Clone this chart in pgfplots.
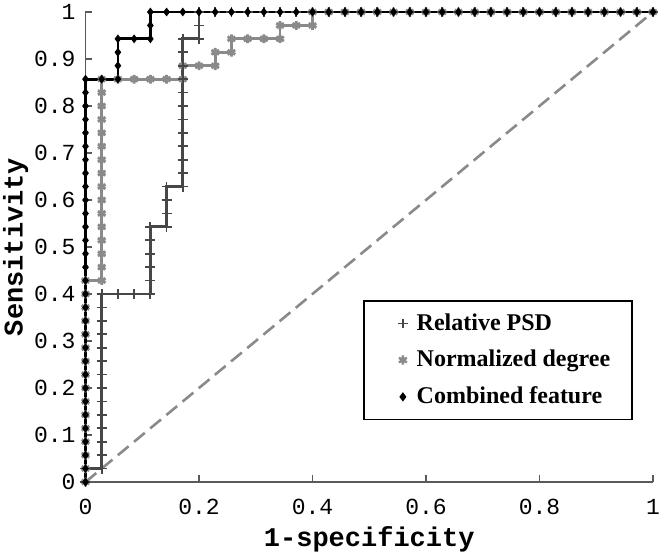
\documentclass[border=0pt]{standalone}
\usepackage{pgfplots}
\pgfplotsset{compat=1.18}
\usepackage{fontspec}
\setmainfont{Liberation Serif}
\newfontfamily\monofont{Liberation Mono}
\definecolor{psdc}{HTML}{474747}
\definecolor{ndc}{HTML}{8A8A8A}
\definecolor{axc}{HTML}{5A5A5A}
\begin{document}
\begin{tikzpicture}
\begin{axis}[
  at={(0,0)}, anchor=south west,
  scale only axis, width=283.75pt, height=235pt,
  xmin=0, xmax=1, ymin=0, ymax=1,
  clip=false,
  axis x line=bottom, axis y line=left,
  axis line style={-, draw=axc, line width=0.7pt},
  tick align=inside, major tick length=3.5pt,
  tick style={draw=axc, line width=0.7pt},
  xtick={0,0.2,0.4,0.6,0.8,1},
  ytick={0,0.1,0.2,0.3,0.4,0.5,0.6,0.7,0.8,0.9,1},
  xticklabels={0,0.2,0.4,0.6,0.8,1},
  yticklabels={0,0.1,0.2,0.3,0.4,0.5,0.6,0.7,0.8,0.9,1},
  tick label style={font=\monofont\fontsize{11.5}{12}\selectfont},
  xticklabel style={yshift=-5pt},
  yticklabel style={xshift=-1.5pt},
  xlabel={1-specificity}, ylabel={Sensitivity},
  label style={font=\monofont\bfseries\fontsize{13.5}{14}\selectfont},
  xlabel style={at={(rel axis cs:0.5,-0.1213)}, anchor=center},
  ylabel style={at={(rel axis cs:-0.1233,0.5)}, anchor=center},
  legend style={at={(axis cs:0.489,0.387)}, anchor=north west, draw=black, line width=0.9pt,
    fill=white, font=\bfseries\fontsize{12}{12.5}\selectfont,
    inner xsep=8.5pt, inner ysep=3.8pt, row sep=3.5pt, nodes={inner sep=2.5pt},
    cells={anchor=west},
    /tikz/every odd column/.append style={column sep=2pt}},
  legend image code/.code={\path[draw=none, fill=none] (-11pt,0pt) -- (0pt,0pt); \draw[#1] plot coordinates {(0pt,0pt)};},
]
\addlegendimage{only marks, mark=+, mark size=2.4pt, draw=psdc, mark options={line width=0.8pt}}
\addlegendentry{Relative PSD}
\addlegendimage{only marks, mark=asterisk, mark size=2.3pt, draw=ndc, mark options={line width=1.2pt}}
\addlegendentry{Normalized degree}
\addlegendimage{only marks, mark=diamond*, mark size=1.6pt, draw=black, fill=black}
\addlegendentry{Combined feature}

% diagonal
\addplot[forget plot, draw=ndc, line width=1.3pt, dash pattern=on 7pt off 3.5pt] coordinates {(0,0) (1,1)};

% Normalized degree
\addplot[forget plot, draw=ndc, line width=1.4pt, mark=asterisk, mark size=2.2pt, mark options={line width=1.4pt, draw=ndc}] table {
x y
0 0
0 .0286
0 .0571
0 .0857
0 .1143
0 .1429
0 .1714
0 .2
0 .2286
0 .2571
0 .2857
0 .3143
0 .3429
0 .3714
0 .4
0 .4286
.0286 .4286
.0286 .4571
.0286 .4857
.0286 .5143
.0286 .5429
.0286 .5714
.0286 .6
.0286 .6286
.0286 .6571
.0286 .6857
.0286 .7143
.0286 .7429
.0286 .7714
.0286 .8
.0286 .8286
.0286 .8571
.0571 .8571
.0857 .8571
.1143 .8571
.1429 .8571
.1714 .8571
.1714 .8857
.2 .8857
.2286 .8857
.2286 .9143
.2571 .9143
.2571 .9429
.2857 .9429
.3143 .9429
.3429 .9429
.3429 .9714
.3714 .9714
.4 .9714
.4 1
.4286 1
.4571 1
.4857 1
.5143 1
.5429 1
.5714 1
.6 1
.6286 1
.6571 1
.6857 1
.7143 1
.7429 1
.7714 1
.8 1
.8286 1
.8571 1
.8857 1
.9143 1
.9429 1
.9714 1
1 1
};

% Relative PSD
\addplot[forget plot, draw=psdc, line width=1.4pt, mark=+, mark size=2.5pt, mark options={line width=0.9pt, draw=psdc}] table {
x y
0 0
0 .0286
.0286 .0286
.0286 .0571
.0286 .0857
.0286 .1143
.0286 .1429
.0286 .1714
.0286 .2
.0286 .2286
.0286 .2571
.0286 .2857
.0286 .3143
.0286 .3429
.0286 .3714
.0286 .4
.0571 .4
.0857 .4
.1143 .4
.1143 .4286
.1143 .4571
.1143 .4857
.1143 .5143
.1143 .5429
.1429 .5429
.1429 .5714
.1429 .6
.1429 .6286
.1714 .6286
.1714 .6571
.1714 .6857
.1714 .7143
.1714 .7429
.1714 .7714
.1714 .8
.1714 .8286
.1714 .8571
.1714 .8857
.1714 .9143
.1714 .9429
.2 .9429
.2 .9714
.2 1
.2286 1
.2571 1
.2857 1
.3143 1
.3429 1
.3714 1
.4 1
.4286 1
.4571 1
.4857 1
.5143 1
.5429 1
.5714 1
.6 1
.6286 1
.6571 1
.6857 1
.7143 1
.7429 1
.7714 1
.8 1
.8286 1
.8571 1
.8857 1
.9143 1
.9429 1
.9714 1
1 1
};

% Combined feature
\addplot[forget plot, draw=black, line width=1.4pt, mark=diamond*, mark size=1.8pt, mark options={fill=black, draw=black, line width=0.5pt}] table {
x y
0 0
0 .0286
0 .0571
0 .0857
0 .1143
0 .1429
0 .1714
0 .2
0 .2286
0 .2571
0 .2857
0 .3143
0 .3429
0 .3714
0 .4
0 .4286
0 .4571
0 .4857
0 .5143
0 .5429
0 .5714
0 .6
0 .6286
0 .6571
0 .6857
0 .7143
0 .7429
0 .7714
0 .8
0 .8286
0 .8571
.0286 .8571
.0571 .8571
.0571 .8857
.0571 .9143
.0571 .9429
.0857 .9429
.1143 .9429
.1143 .9714
.1143 1
.1429 1
.1714 1
.2 1
.2286 1
.2571 1
.2857 1
.3143 1
.3429 1
.3714 1
.4 1
.4286 1
.4571 1
.4857 1
.5143 1
.5429 1
.5714 1
.6 1
.6286 1
.6571 1
.6857 1
.7143 1
.7429 1
.7714 1
.8 1
.8286 1
.8571 1
.8857 1
.9143 1
.9429 1
.9714 1
1 1
};
\end{axis}
\pgfresetboundingbox
\path (-42.75pt,-35pt) rectangle (287.75pt,241pt);
\end{tikzpicture}
\end{document}
